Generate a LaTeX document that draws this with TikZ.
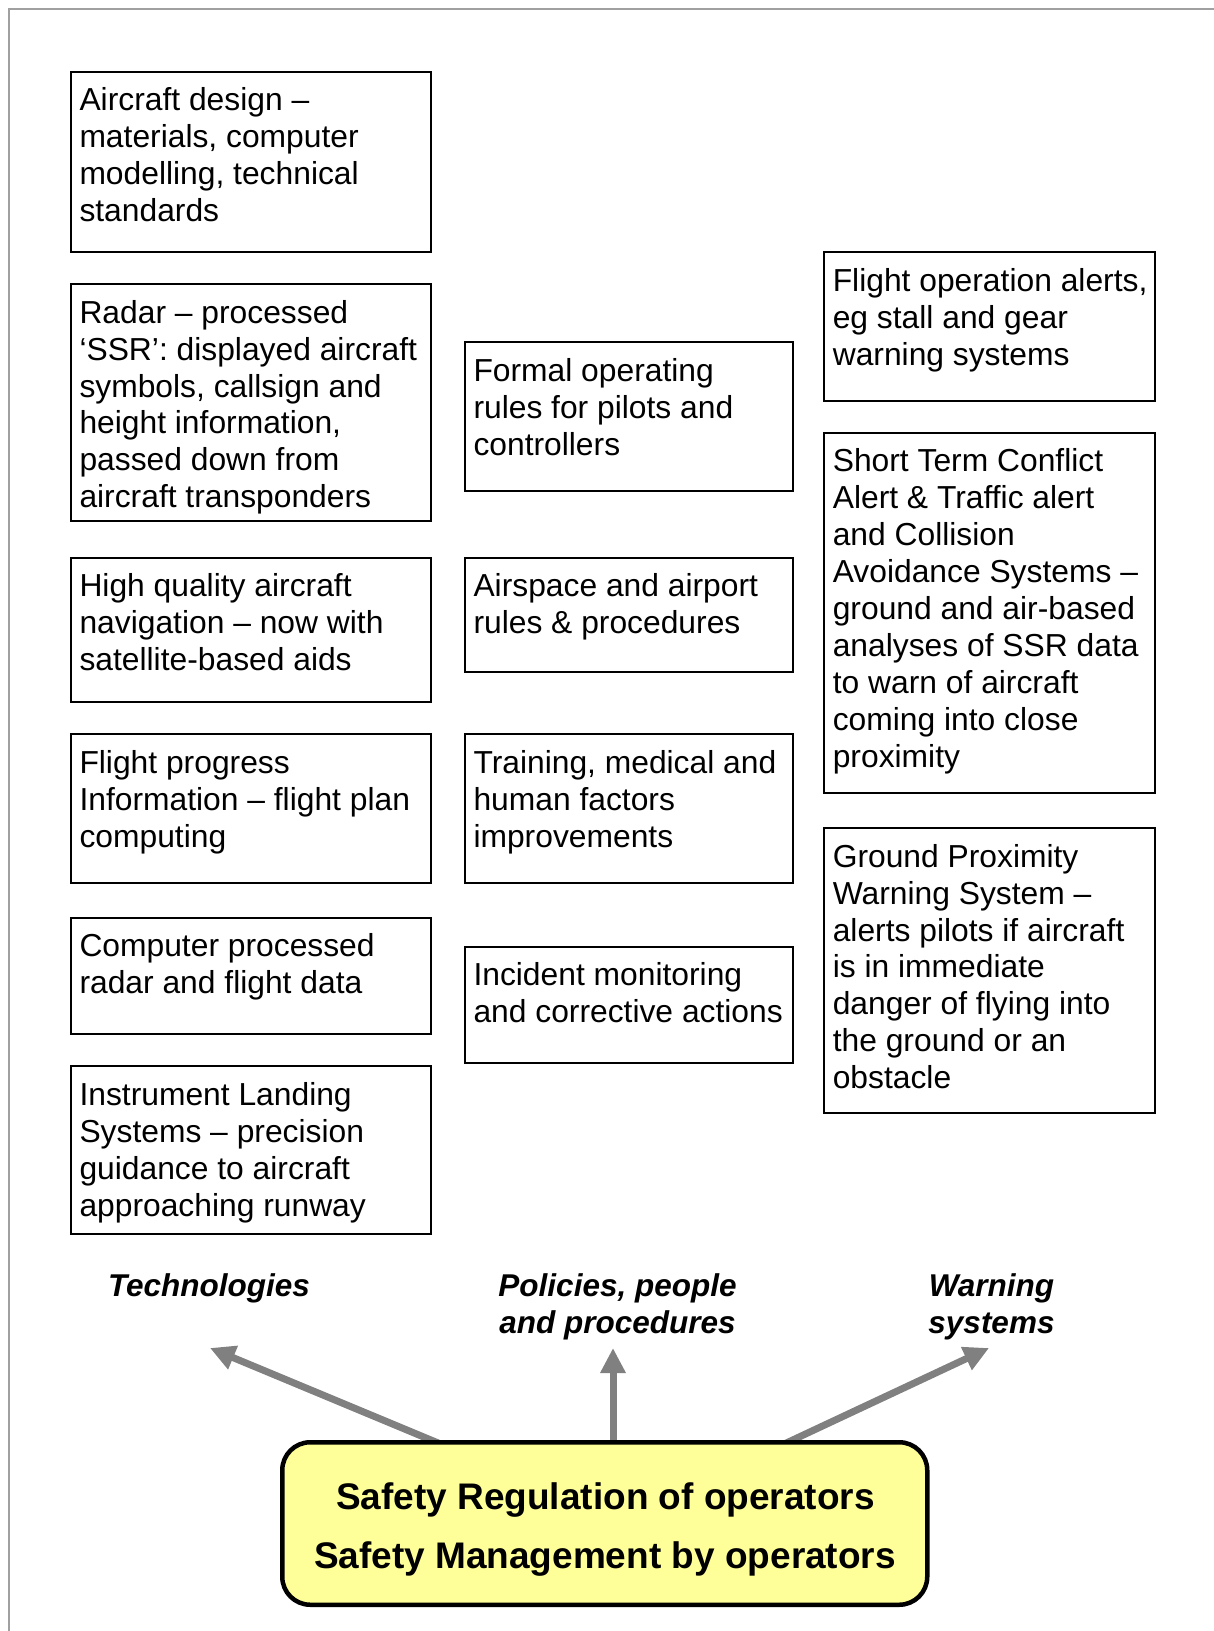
\documentclass[tikz,border=0pt]{standalone}
\usepackage{fontspec}
\setmainfont{Liberation Sans}
\usetikzlibrary{arrows.meta}
\definecolor{framegray}{HTML}{A0A0A0}
\definecolor{arrgray}{HTML}{808080}
\definecolor{boxyellow}{HTML}{FFFF99}
\newcommand\tbox[6]{%
  \node[box, minimum width=#4pt, minimum height=#5pt] (#1) at (#2,#3) {};
  \node[txt] (#1t) at ([shift={(8.3,13.2)}]#1.north west) {\strut #6};}
\begin{document}
\begin{tikzpicture}[x=1pt,y=-1pt,
  box/.style={draw=black, line width=2pt, anchor=north west, inner sep=0pt, outer sep=0pt},
  txt/.style={anchor=north west, inner sep=0pt, align=left, font=\fontsize{31.8}{36.9}\selectfont},
  lab/.style={anchor=north, inner sep=0pt, align=center, font=\fontsize{31.5}{36.4}\selectfont\bfseries\itshape},
  arr/.style={draw=arrgray, line width=7pt, -{Triangle[length=25pt,width=24pt]}},
  bigtxt/.style={anchor=base, inner sep=0pt, font=\fontsize{37}{44}\selectfont\bfseries},
]
\useasboundingbox (0,0) rectangle (1214,1631);
\draw[framegray, line width=2pt] (9,1631) -- (9,9) -- (1214,9);

% Technologies column
\tbox{b1}{71}{71.7}{360.3}{180.6}{Aircraft design --\\materials, computer\\modelling, technical\\standards}
\tbox{b2}{71}{284}{360.3}{237.2}{Radar -- processed\\‘SSR’: displayed aircraft\\symbols, callsign and\\height information,\\passed down from\\aircraft transponders}
\tbox{b3}{71}{557.6}{360.3}{144.6}{High quality aircraft\\navigation -- now with\\satellite-based aids}
\tbox{b4}{71}{734.4}{360.3}{148.9}{Flight progress\\Information -- flight plan\\computing}
\tbox{b5}{71}{917.5}{360.3}{116.6}{Computer processed\\radar and flight data}
\tbox{b6}{71}{1066.3}{360.3}{167.5}{Instrument Landing\\Systems -- precision\\guidance to aircraft\\approaching runway}

% Policies column
\tbox{c1}{465}{342.2}{327.7}{148.9}{Formal operating\\rules for pilots and\\controllers}
\tbox{c2}{465}{557.6}{327.7}{114.5}{Airspace and airport\\rules \& procedures}
\tbox{c3}{465}{734.4}{327.7}{148.9}{Training, medical and\\human factors\\improvements}
\tbox{c4}{465}{946.6}{327.7}{116.6}{Incident monitoring\\and corrective actions}

% Warning column
\tbox{d1}{824.3}{252}{330.7}{149.3}{Flight operation alerts,\\eg stall and gear\\warning systems}
\tbox{d2}{824.3}{432.7}{330.7}{360}{Short Term Conflict\\Alert \& Traffic alert\\and Collision\\Avoidance Systems --\\ground and air-based\\analyses of SSR data\\to warn of aircraft\\coming into close\\proximity}
\tbox{d3}{824.3}{828}{330.7}{285.2}{Ground Proximity\\Warning System --\\alerts pilots if aircraft\\is in immediate\\danger of flying into\\the ground or an\\obstacle}

% Labels
\node[lab] (ltech) at (209,1271) {\strut Technologies};
\node[lab] (lpol) at (617.5,1271) {\strut Policies, people\\and procedures};
\node[lab] (lwarn) at (991.5,1271) {\strut Warning\\systems};

% Arrows
\coordinate (s1) at (443,1445);
\coordinate (t1) at (210,1348);
\coordinate (s2) at (613,1445);
\coordinate (t2) at (613,1348);
\coordinate (s3) at (782,1445);
\coordinate (t3) at (989,1348);
\draw[arr] (s1) -- (t1);
\draw[arr] (s2) -- (t2);
\draw[arr] (s3) -- (t3);

% Bottom box
\node[draw=black, line width=4.5pt, fill=boxyellow, rounded corners=28pt,
      minimum width=645pt, minimum height=162.5pt, inner sep=0pt, outer sep=0pt,
      anchor=north west] (safety) at (282.25,1442.25) {};
\node[bigtxt] (sreg) at (605.5,1509) {Safety Regulation of operators};
\node[bigtxt] (smgmt) at (605,1568) {Safety Management by operators};
\end{tikzpicture}
\end{document}
